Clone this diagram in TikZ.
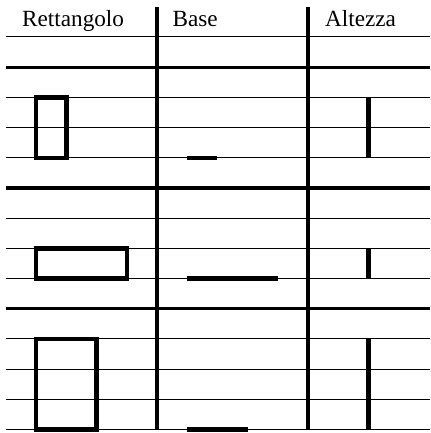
\documentclass[tikz,border=0pt]{standalone}
\usepackage{fontspec}
\setmainfont{Liberation Serif}
\usepackage{tikz}

\begin{document}
\begin{tikzpicture}[x=30.2pt,y=-30.2pt,
  rule/.style={draw=black,line width=1pt},
  boldrule/.style={draw=black,line width=3.3pt},
  shapeline/.style={draw=black,line width=4.3pt},
  head/.style={anchor=base west,inner sep=0pt,font=\fontsize{23.2}{28}\selectfont}]
  \useasboundingbox (-0.199,-1.225) rectangle (14.04,13.113);
  % grid
  \foreach \k in {0,2,3,4,6,7,8,10,11,12,13}
    \draw[rule] (0,\k) -- (14.04,\k);
  \foreach \k in {1,5,9}
    \draw[boldrule] (0,\k) -- (14.04,\k);
  \foreach \c in {5,10}
    \draw[boldrule] (\c,-1) -- (\c,13);
  % column heads
  \node[head] (rett) at (0.53,-0.364) {Rettangolo};
  \node[head] (base) at (5.51,-0.364) {Base};
  \node[head] (alt) at (10.56,-0.364) {Altezza};
  % row 1
  \draw[shapeline] (1,2) rectangle (2,4);
  \draw[shapeline] (6,4) -- (7,4);
  \draw[shapeline] (12,2) -- (12,4);
  % row 2
  \draw[shapeline] (1,7) rectangle (4,8);
  \draw[shapeline] (6,8) -- (9,8);
  \draw[shapeline] (12,7) -- (12,8);
  % row 3
  \draw[shapeline] (1,10) rectangle (3,13);
  \draw[shapeline] (6,13) -- (8,13);
  \draw[shapeline] (12,10) -- (12,13);
\end{tikzpicture}
\end{document}
